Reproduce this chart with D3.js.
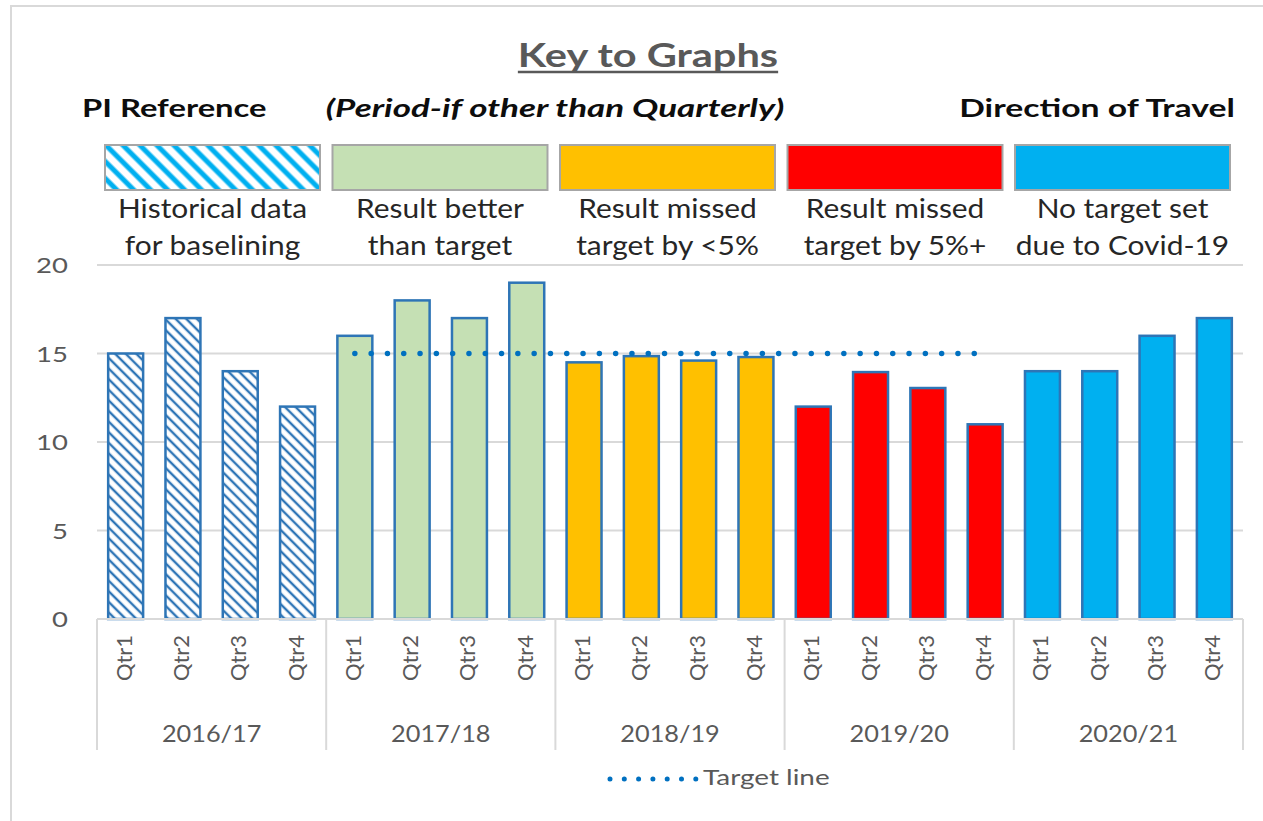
<!DOCTYPE html>
<html>
<head>
<meta charset="utf-8">
<script src="https://cdn.jsdelivr.net/npm/d3@7"></script>
<style>
  body { margin: 0; background: #fff; }
  svg { display: block; font-family: Lato, "Open Sans", sans-serif; }
</style>
</head>
<body>
<div id="chart"></div>
<script>
// chart data
var years = ["2016/17", "2017/18", "2018/19", "2019/20", "2020/21"];
var quarters = ["Qtr1", "Qtr2", "Qtr3", "Qtr4"];
var values = [
    [15, 17, 14, 12],
    [16, 18, 17, 19],
    [14.5, 14.85, 14.6, 14.8],
    [12, 13.95, 13.05, 11],
    [14, 14, 16, 17]
];
var yearStatus = ["historical", "better", "missedSmall", "missedBig", "noTarget"];
var targetValue = 15;
var targetYears = ["2017/18", "2018/19", "2019/20"];
var yTicks = [0, 5, 10, 15, 20];

var keyItems = ["historical", "better", "missedSmall", "missedBig", "noTarget"];
var keyLabels = [
    ["Historical data", "for baselining"],
    ["Result better", "than target"],
    ["Result missed", "target by <5%"],
    ["Result missed", "target by 5%+"],
    ["No target set", "due to Covid-19"]
];

var fills = {
    "historical": "url(#hatchBar)",
    "better": "#C5E0B4",
    "missedSmall": "#FFC000",
    "missedBig": "#FF0000",
    "noTarget": "#00B0F0"
};

var W = 1263, H = 821;
var margin = {left: 97, right: 20, top: 265, bottom: 202};

var svg = d3.select("#chart").append("svg")
    .attr("width", W)
    .attr("height", H);

var defs = svg.append("defs");

function hatch(id, color, size, width) {
    var p = defs.append("pattern")
        .attr("id", id)
        .attr("patternUnits", "userSpaceOnUse")
        .attr("width", size)
        .attr("height", size)
        .attr("patternTransform", "rotate(-45)");
    p.append("rect").attr("width", size).attr("height", size).attr("fill", "#fff");
    p.append("line")
        .attr("x1", size / 2).attr("y1", 0)
        .attr("x2", size / 2).attr("y2", size)
        .attr("stroke", color)
        .attr("stroke-width", width);
}
hatch("hatchBar", "#2E75B6", 7.5, 2.4);
hatch("hatchKey", "#00B0F0", 12, 5);

// the source picture is a bit wide, so text gets a horizontal stretch
function label(parent, x, y, txt, size, sx, anchor) {
    var g = parent.append("g")
        .attr("transform", "translate(" + x + "," + y + ") scale(" + sx + ",1)");
    return g.append("text")
        .attr("text-anchor", anchor || "start")
        .attr("font-size", size)
        .text(txt);
}

// outer frame
svg.append("path")
    .attr("d", "M11," + H + "V6H" + W)
    .attr("fill", "none")
    .attr("stroke", "#d9d9d9")
    .attr("stroke-width", 2);

// ---- key ----
var title = label(svg, 648, 67, "Key to Graphs", 33, 1.26, "middle")
    .attr("font-weight", "bold")
    .attr("fill", "#595959");
var tw = title.node().getComputedTextLength() * 1.26;
svg.append("line")
    .attr("x1", 648 - tw / 2).attr("x2", 648 + tw / 2)
    .attr("y1", 72).attr("y2", 72)
    .attr("stroke", "#595959")
    .attr("stroke-width", 2.5);

label(svg, 82, 117, "PI Reference", 25, 1.31)
    .attr("font-weight", "bold").attr("fill", "#0d0d0d");
label(svg, 555, 117, "(Period-if other than Quarterly)", 25, 1.4, "middle")
    .attr("font-weight", "bold").attr("font-style", "italic").attr("fill", "#0d0d0d");
label(svg, 1235, 117, "Direction of Travel", 25, 1.35, "end")
    .attr("font-weight", "bold").attr("fill", "#0d0d0d");

var keyX = d3.scaleBand()
    .domain(keyItems)
    .range([105, 1230])
    .paddingInner(0.055)
    .paddingOuter(0);

var keyG = svg.append("g").attr("class", "key")
    .selectAll("g")
    .data(keyItems)
    .join("g")
    .attr("transform", function(d) { return "translate(" + keyX(d) + ",0)"; });

keyG.append("rect")
    .attr("y", 145)
    .attr("width", keyX.bandwidth())
    .attr("height", 45)
    .attr("fill", function(d) { return d == "historical" ? "url(#hatchKey)" : fills[d]; })
    .attr("stroke", "#a6a6a6")
    .attr("stroke-width", 2);

keyG.each(function(d, i) {
    var g = d3.select(this);
    keyLabels[i].forEach(function(line, j) {
        label(g, keyX.bandwidth() / 2, 218 + j * 37, line, 26, 1.15, "middle")
            .attr("fill", "#262626");
    });
});

// ---- chart ----
var cats = [];
years.forEach(function(y, i) {
    quarters.forEach(function(q, j) {
        cats.push({year: y, q: q, value: values[i][j], status: yearStatus[i]});
    });
});

var x = d3.scaleBand()
    .domain(cats.map(function(d) { return d.year + "|" + d.q; }))
    .range([margin.left, W - margin.right])
    .paddingInner(0.39)
    .paddingOuter(0.195);

var y = d3.scaleLinear()
    .domain([0, 20])
    .range([H - margin.bottom, margin.top]);

var grid = svg.append("g").attr("class", "grid");
grid.selectAll("line")
    .data(yTicks.slice(1))
    .join("line")
    .attr("x1", margin.left).attr("x2", W - margin.right)
    .attr("y1", function(d) { return y(d); })
    .attr("y2", function(d) { return y(d); })
    .attr("stroke", "#d9d9d9")
    .attr("stroke-width", 2);

var yLab = svg.append("g").attr("class", "y-labels");
yTicks.forEach(function(t) {
    label(yLab, 68, y(t) + 8, t, 22, 1.25, "end").attr("fill", "#595959");
});

svg.append("g").attr("class", "bars")
    .selectAll("rect")
    .data(cats)
    .join("rect")
    .attr("x", function(d) { return x(d.year + "|" + d.q); })
    .attr("y", function(d) { return y(d.value); })
    .attr("width", x.bandwidth())
    .attr("height", function(d) { return y(0) - y(d.value); })
    .attr("fill", function(d) { return fills[d.status]; })
    .attr("stroke", "#2E75B6")
    .attr("stroke-width", 2.5);

// target line
var targetPts = cats.filter(function(d) { return targetYears.indexOf(d.year) >= 0; });
var line = d3.line()
    .x(function(d) { return x(d.year + "|" + d.q) + x.bandwidth() / 2; })
    .y(function() { return y(targetValue); });
svg.append("path")
    .datum(targetPts)
    .attr("d", line)
    .attr("fill", "none")
    .attr("stroke", "#0070C0")
    .attr("stroke-width", 5.5)
    .attr("stroke-linecap", "round")
    .attr("stroke-dasharray", "0 16.3");

// category axis
var base = y(0);
var step = x.step();
svg.append("line")
    .attr("x1", margin.left).attr("x2", W - margin.right)
    .attr("y1", base).attr("y2", base)
    .attr("stroke", "#d9d9d9").attr("stroke-width", 2);

var sepX = years.map(function(yr, i) { return margin.left + i * 4 * step; });
sepX.push(W - margin.right);
svg.append("g").selectAll("line")
    .data(sepX)
    .join("line")
    .attr("x1", function(d) { return d; })
    .attr("x2", function(d) { return d; })
    .attr("y1", base).attr("y2", base + 131)
    .attr("stroke", "#d9d9d9").attr("stroke-width", 2);

svg.append("g").selectAll("text")
    .data(cats)
    .join("text")
    .attr("transform", function(d) {
        return "translate(" + (x(d.year + "|" + d.q) + x.bandwidth() / 2 + 6) + "," + (base + 39) + ") rotate(-90)";
    })
    .attr("text-anchor", "middle")
    .attr("font-size", 22)
    .attr("fill", "#595959")
    .text(function(d) { return d.q; });

var yearG = svg.append("g").attr("class", "years");
years.forEach(function(yr, i) {
    label(yearG, (sepX[i] + sepX[i + 1]) / 2, base + 123, yr, 23, 1.1, "middle")
        .attr("fill", "#595959");
});

// legend
var lg = svg.append("g").attr("transform", "translate(0,779)");
lg.append("line")
    .attr("x1", 610).attr("x2", 696)
    .attr("stroke", "#0070C0")
    .attr("stroke-width", 5)
    .attr("stroke-linecap", "round")
    .attr("stroke-dasharray", "0 14.3");
label(lg, 703, 6, "Target line", 21, 1.33).attr("fill", "#595959");
</script>
</body>
</html>
